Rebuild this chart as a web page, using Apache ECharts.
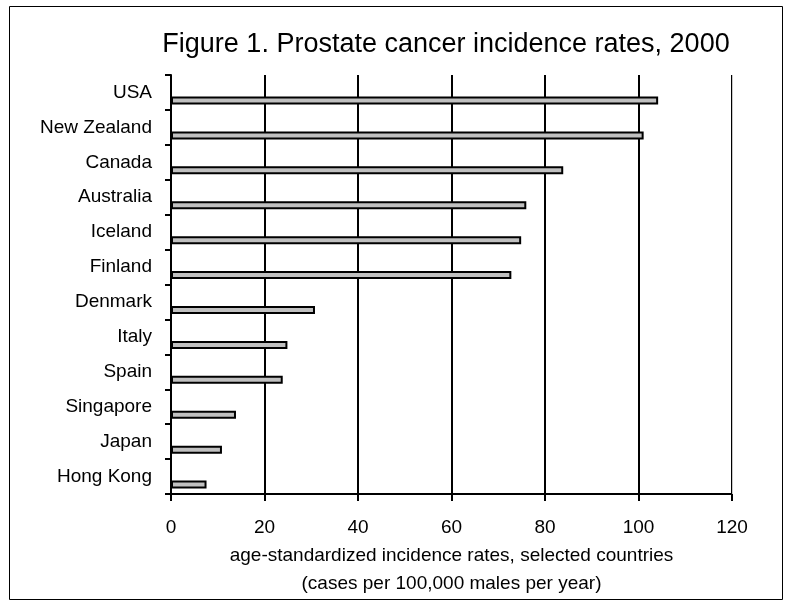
<!DOCTYPE html>
<html>
<head>
<meta charset="utf-8">
<script src="https://cdn.jsdelivr.net/npm/echarts@6/dist/echarts.min.js"></script>
<style>
  html, body { margin: 0; padding: 0; background: #fff; }
  #chart { width: 793px; height: 607px; }
</style>
</head>
<body>
<div id="chart"></div>
<script>
// Countries, top to bottom
const countries = ['USA', 'New Zealand', 'Canada', 'Australia', 'Iceland', 'Finland',
  'Denmark', 'Italy', 'Spain', 'Singapore', 'Japan', 'Hong Kong'];
// Age-standardized incidence per 100,000 males
const rates = [104.2, 101.1, 83.9, 76.0, 74.9, 72.8, 30.8, 24.9, 23.9, 13.9, 10.9, 7.6];
const xTicks = [0, 20, 40, 60, 80, 100, 120];

const chart = echarts.init(document.getElementById('chart'), null, { renderer: 'canvas' });
const font = '"Liberation Sans", Arial, sans-serif';

chart.setOption({
  animation: false,
  backgroundColor: '#fff',
  textStyle: { fontFamily: font },
  title: {
    text: 'Figure 1. Prostate cancer incidence rates, 2000',
    left: 441, top: 26, textAlign: 'center',
    textStyle: { fontFamily: font, fontSize: 27, fontWeight: 'normal', color: '#000' }
  },
  grid: { left: 171, right: 61, top: 75, bottom: 113, containLabel: false, show: false },
  xAxis: {
    type: 'value', min: xTicks[0], max: xTicks[xTicks.length - 1], interval: 20,
    position: 'bottom',
    name: 'age-standardized incidence rates, selected countries\n(cases per 100,000 males per year)',
    nameLocation: 'middle', nameGap: 40,
    nameTextStyle: { fontFamily: font, fontSize: 19, color: '#000', lineHeight: 28, verticalAlign: 'top' },
    axisLine: { show: true, lineStyle: { color: '#000', width: 2 } },
    axisTick: { show: true, inside: false, length: 7, lineStyle: { color: '#000', width: 2 } },
    axisLabel: { fontFamily: font, fontSize: 19, color: '#000', margin: 24 },
    splitLine: { show: true, lineStyle: { color: '#000', width: 2 } }
  },
  yAxis: {
    type: 'category', data: countries, inverse: true,
    axisLine: { show: true, lineStyle: { color: '#000', width: 2 } },
    axisTick: { show: true, inside: false, length: 6, alignWithLabel: false, lineStyle: { color: '#000', width: 2 } },
    axisLabel: { fontFamily: font, fontSize: 19, color: '#000', margin: 19, verticalAlign: 'middle' }
  },
  graphic: [
    { type: 'rect', shape: { x: 9.5, y: 6.5, width: 773, height: 593 },
      style: { fill: 'none', stroke: '#000', lineWidth: 1 }, silent: true, z: 0 },
    { type: 'line', shape: { x1: 732.5, y1: 75, x2: 732.5, y2: 494 },
      style: { stroke: '#c8c8c8', lineWidth: 1 }, z: 1 }
  ],
  series: [
    { name: 'spacer', type: 'bar', data: countries.map(() => null), barWidth: 8, barGap: '100%' },
    {
      name: 'rate', type: 'bar', data: rates, barWidth: 8, barGap: '100%',
      itemStyle: { color: '#c0c0c0', borderColor: '#000', borderWidth: 2 }
    }
  ]
});
</script>
</body>
</html>
